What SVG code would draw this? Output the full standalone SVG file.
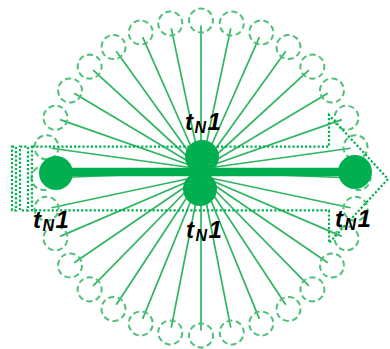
<svg xmlns="http://www.w3.org/2000/svg" xmlns:xlink="http://www.w3.org/1999/xlink" width="390" height="349" viewBox="0 0 390 349">
<style>
.ray{stroke:#2FB560;stroke-width:1.7;fill:none}
.ringc{stroke:#4EC07A;stroke-width:2;fill:none;stroke-dasharray:6 3.42;stroke-dashoffset:3}
.dot{stroke:#00B050;stroke-width:2.2;fill:none;stroke-dasharray:2.2 2}
.node{fill:#00B050}
.lbl{font-family:"Liberation Sans",Arial,sans-serif;font-weight:bold;font-style:italic;font-size:24px;fill:#000;letter-spacing:1.5px}
.sub{font-size:16px}
</style>
<defs>
<circle id="rc" class="ringc" cx="201" cy="20.5" r="12"/>
</defs>
<rect width="390" height="349" fill="#fff"/>
<g id="connectors">
<line class="ray" x1="201" y1="172" x2="353.5" y2="178"/>
<line class="ray" x1="201" y1="176" x2="350.57" y2="207.75"/>
<line class="ray" x1="201" y1="176" x2="341.89" y2="236.36"/>
<line class="ray" x1="201" y1="176" x2="327.8" y2="262.72"/>
<line class="ray" x1="201" y1="176" x2="308.83" y2="285.83"/>
<line class="ray" x1="201" y1="176" x2="285.72" y2="304.8"/>
<line class="ray" x1="201" y1="176" x2="259.36" y2="318.89"/>
<line class="ray" x1="201" y1="176" x2="230.75" y2="327.57"/>
<line class="ray" x1="201" y1="176" x2="201" y2="330.5"/>
<line class="ray" x1="201" y1="176" x2="171.25" y2="327.57"/>
<line class="ray" x1="201" y1="176" x2="142.64" y2="318.89"/>
<line class="ray" x1="201" y1="176" x2="116.28" y2="304.8"/>
<line class="ray" x1="201" y1="176" x2="93.17" y2="285.83"/>
<line class="ray" x1="201" y1="176" x2="74.2" y2="262.72"/>
<line class="ray" x1="201" y1="176" x2="60.11" y2="236.36"/>
<line class="ray" x1="201" y1="176" x2="51.43" y2="207.75"/>
<line class="ray" x1="201" y1="172" x2="48.5" y2="178"/>
<line class="ray" x1="201" y1="169" x2="51.43" y2="148.25"/>
<line class="ray" x1="201" y1="169" x2="60.11" y2="119.64"/>
<line class="ray" x1="201" y1="169" x2="74.2" y2="93.28"/>
<line class="ray" x1="201" y1="169" x2="93.17" y2="70.17"/>
<line class="ray" x1="201" y1="169" x2="116.28" y2="51.2"/>
<line class="ray" x1="201" y1="169" x2="142.64" y2="37.11"/>
<line class="ray" x1="201" y1="169" x2="171.25" y2="28.43"/>
<line class="ray" x1="201" y1="169" x2="201" y2="25.5"/>
<line class="ray" x1="201" y1="169" x2="230.75" y2="28.43"/>
<line class="ray" x1="201" y1="169" x2="259.36" y2="37.11"/>
<line class="ray" x1="201" y1="169" x2="285.72" y2="51.2"/>
<line class="ray" x1="201" y1="169" x2="308.83" y2="70.17"/>
<line class="ray" x1="201" y1="169" x2="327.8" y2="93.28"/>
<line class="ray" x1="201" y1="169" x2="341.89" y2="119.64"/>
<line class="ray" x1="201" y1="169" x2="350.57" y2="148.25"/>
</g>
<g id="ring">
<use id="ring-0" xlink:href="#rc" transform="rotate(90 201 178)"/>
<use id="ring-1" xlink:href="#rc" transform="rotate(101.25 201 178)"/>
<use id="ring-2" xlink:href="#rc" transform="rotate(112.5 201 178)"/>
<use id="ring-3" xlink:href="#rc" transform="rotate(123.75 201 178)"/>
<use id="ring-4" xlink:href="#rc" transform="rotate(135 201 178)"/>
<use id="ring-5" xlink:href="#rc" transform="rotate(146.25 201 178)"/>
<use id="ring-6" xlink:href="#rc" transform="rotate(157.5 201 178)"/>
<use id="ring-7" xlink:href="#rc" transform="rotate(168.75 201 178)"/>
<use id="ring-8" xlink:href="#rc" transform="rotate(180 201 178)"/>
<use id="ring-9" xlink:href="#rc" transform="rotate(191.25 201 178)"/>
<use id="ring-10" xlink:href="#rc" transform="rotate(202.5 201 178)"/>
<use id="ring-11" xlink:href="#rc" transform="rotate(213.75 201 178)"/>
<use id="ring-12" xlink:href="#rc" transform="rotate(225 201 178)"/>
<use id="ring-13" xlink:href="#rc" transform="rotate(236.25 201 178)"/>
<use id="ring-14" xlink:href="#rc" transform="rotate(247.5 201 178)"/>
<use id="ring-15" xlink:href="#rc" transform="rotate(258.75 201 178)"/>
<use id="ring-16" xlink:href="#rc" transform="rotate(270 201 178)"/>
<use id="ring-17" xlink:href="#rc" transform="rotate(281.25 201 178)"/>
<use id="ring-18" xlink:href="#rc" transform="rotate(292.5 201 178)"/>
<use id="ring-19" xlink:href="#rc" transform="rotate(303.75 201 178)"/>
<use id="ring-20" xlink:href="#rc" transform="rotate(315 201 178)"/>
<use id="ring-21" xlink:href="#rc" transform="rotate(326.25 201 178)"/>
<use id="ring-22" xlink:href="#rc" transform="rotate(337.5 201 178)"/>
<use id="ring-23" xlink:href="#rc" transform="rotate(348.75 201 178)"/>
<use id="ring-24" xlink:href="#rc"/>
<use id="ring-25" xlink:href="#rc" transform="rotate(11.25 201 178)"/>
<use id="ring-26" xlink:href="#rc" transform="rotate(22.5 201 178)"/>
<use id="ring-27" xlink:href="#rc" transform="rotate(33.75 201 178)"/>
<use id="ring-28" xlink:href="#rc" transform="rotate(45 201 178)"/>
<use id="ring-29" xlink:href="#rc" transform="rotate(56.25 201 178)"/>
<use id="ring-30" xlink:href="#rc" transform="rotate(67.5 201 178)"/>
<use id="ring-31" xlink:href="#rc" transform="rotate(78.75 201 178)"/>
</g>
<g id="striped-arrow">
<rect class="dot" x="12" y="146.7" width="4" height="63.6"/>
<rect class="dot" x="20" y="146.7" width="8" height="63.6"/>
<polygon class="dot" points="32,146.7 329,146.7 329,115 388,179 329,243 329,210.3 32,210.3"/>
</g>
<g id="edge-main">
<line x1="56" y1="172" x2="355" y2="172" stroke="#00B050" stroke-width="8.5"/>
</g>
<g id="node-left"><circle class="node" cx="56" cy="173" r="17"/></g>
<g id="node-right"><circle class="node" cx="355" cy="172" r="17"/></g>
<g id="node-center-top"><circle class="node" cx="202" cy="157" r="17"/></g>
<g id="node-center-bottom"><circle class="node" cx="200" cy="189" r="17"/></g>
<g id="labels">
<text class="lbl" x="185" y="130">t<tspan class="sub" dy="3">N</tspan><tspan dy="-3">1</tspan></text>
<text class="lbl" x="33" y="228">t<tspan class="sub" dy="3">N</tspan><tspan dy="-3">1</tspan></text>
<text class="lbl" x="335" y="227">t<tspan class="sub" dy="3">N</tspan><tspan dy="-3">1</tspan></text>
<text class="lbl" x="186" y="238">t<tspan class="sub" dy="3">N</tspan><tspan dy="-3">1</tspan></text>
</g>
</svg>
